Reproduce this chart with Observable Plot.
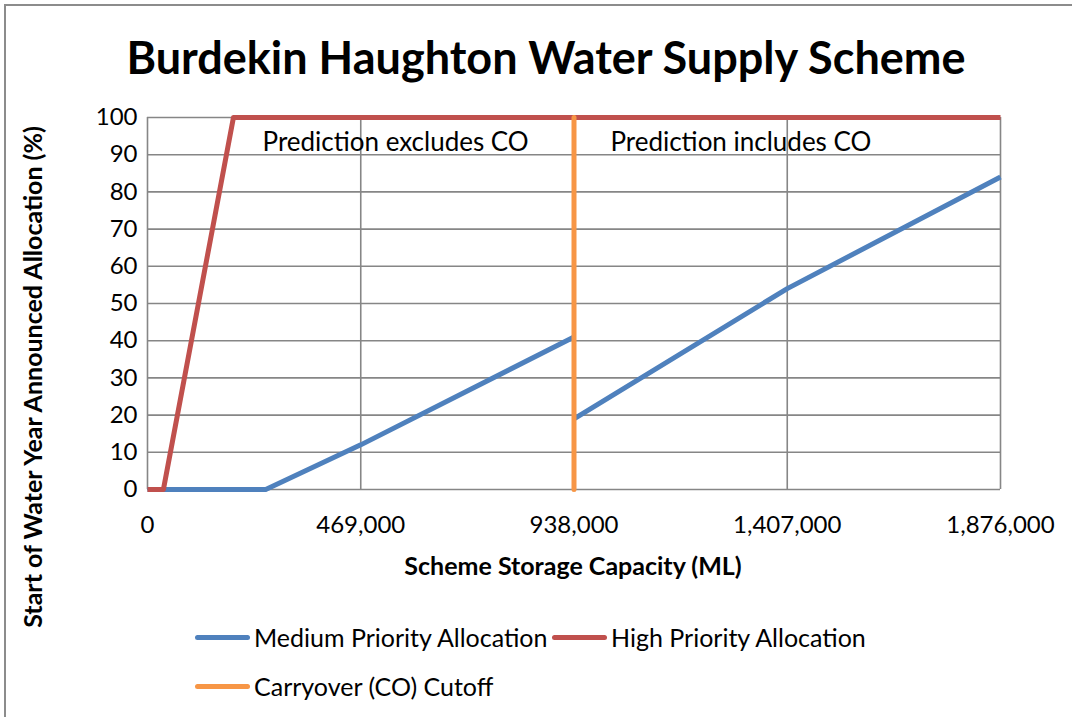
<!DOCTYPE html>
<html>
<head>
<meta charset="utf-8">
<script src="https://cdn.jsdelivr.net/npm/d3@7"></script>
<script src="https://cdn.jsdelivr.net/npm/@observablehq/plot@0.6"></script>
<style>
  html, body { margin: 0; padding: 0; background: #fff; }
  #wrap { position: relative; width: 1072px; height: 717px; overflow: hidden; font-family: Lato, "Open Sans", sans-serif; }
  #frame { position: absolute; left: 4px; top: 4px; width: 1300px; height: 900px; border-top: 2px solid #8c8c8c; border-left: 2px solid #8c8c8c; box-sizing: border-box; }
  #chart { position: absolute; left: 0; top: 0; }
  .abs { position: absolute; white-space: nowrap; color: #000; }
  #title { left: 546px; top: 57px; transform: translate(-50%, -50%); font-weight: bold; font-size: 45px; }
  #xlabel { left: 573px; top: 565px; transform: translate(-50%, -50%); font-weight: bold; font-size: 25px; }
  #ylabel { left: 32px; top: 377px; transform: translate(-50%, -50%) rotate(-90deg); font-weight: bold; font-size: 25px; }
  .leg { position: absolute; display: flex; align-items: center; font-size: 25px; white-space: nowrap; }
  .sw { width: 55px; height: 5px; border-radius: 3px; margin-right: 4px; }
</style>
</head>
<body>
<div id="wrap">
  <div id="frame"></div>
  <div id="chart"></div>
  <div id="title" class="abs">Burdekin Haughton Water Supply Scheme</div>
  <div id="xlabel" class="abs">Scheme Storage Capacity (ML)</div>
  <div id="ylabel" class="abs">Start of Water Year Announced Allocation (%)</div>
  <div id="legend"></div>
</div>
<script>
// ---- data ----
const xTicks = [0, 469000, 938000, 1407000, 1876000];
const yTicks = [0, 10, 20, 30, 40, 50, 60, 70, 80, 90, 100];

const highX = [0, 35000, 189000, 1876000];
const highY = [0, 0, 100, 100];

const medLowX = [0, 260000, 469000, 938000];
const medLowY = [0, 0, 12, 41];
const medHighX = [938000, 1407000, 1876000];
const medHighY = [19, 54, 84];

const cutoffX = [938000, 938000];
const cutoffY = [0, 100];

const noteText = ["Prediction excludes CO", "Prediction includes CO"];
const noteX = [253000, 1018000];
const noteY = [93.2, 93.2];

const seriesNames = ["Medium Priority Allocation", "High Priority Allocation", "Carryover (CO) Cutoff"];
const seriesColors = ["#4F81BD", "#C0504D", "#F79646"];

// ---- build tables ----
const high = highX.map((x, i) => ({x, y: highY[i]}));
const med = [
  ...medLowX.map((x, i) => ({x, y: medLowY[i], seg: "a"})),
  ...medHighX.map((x, i) => ({x, y: medHighY[i], seg: "b"}))
];
const cutoff = cutoffX.map((x, i) => ({x, y: cutoffY[i]}));
const notes = noteText.map((t, i) => ({t, x: noteX[i], y: noteY[i]}));

const chart = Plot.plot({
  width: 1072,
  height: 717,
  marginLeft: 147,
  marginRight: 72,
  marginTop: 117,
  marginBottom: 228,
  style: {fontFamily: "Lato, 'Open Sans', sans-serif", fontSize: "24px", color: "#000", background: "transparent", overflow: "visible"},
  x: {domain: [0, 1876000]},
  y: {domain: [0, 100]},
  marks: [
    Plot.gridX(xTicks, {stroke: "#868686", strokeOpacity: 1, strokeWidth: 1.6}),
    Plot.gridY(yTicks, {stroke: "#868686", strokeOpacity: 1, strokeWidth: 1.6}),
    Plot.axisX(xTicks, {tickSize: 0, tickPadding: 26, tickFormat: d3.format(","), label: null, fontSize: 24}),
    Plot.axisY(yTicks, {tickSize: 0, tickPadding: 10, label: null, fontSize: 24}),
    Plot.line(med, {x: "x", y: "y", z: "seg", stroke: seriesColors[0], strokeWidth: 5, strokeLinejoin: "round", strokeLinecap: "butt"}),
    Plot.line(high, {x: "x", y: "y", stroke: seriesColors[1], strokeWidth: 5, strokeLinejoin: "round", strokeLinecap: "butt"}),
    Plot.line(cutoff, {x: "x", y: "y", stroke: seriesColors[2], strokeWidth: 5, strokeLinecap: "round"}),
    Plot.text(notes, {x: "x", y: "y", text: "t", textAnchor: "start", fontSize: 26, fill: "#000"})
  ]
});
document.getElementById("chart").appendChild(chart);

// ---- legend ----
const legendPos = [[195, 637], [552, 637], [195, 686]];
const legend = document.getElementById("legend");
seriesNames.forEach((name, i) => {
  const d = document.createElement("div");
  d.className = "leg";
  d.style.left = legendPos[i][0] + "px";
  d.style.top = (legendPos[i][1] - 17) + "px";
  d.style.height = "34px";
  d.innerHTML = `<span class="sw" style="background:${seriesColors[i]}"></span><span>${name}</span>`;
  legend.appendChild(d);
});
</script>
</body>
</html>
